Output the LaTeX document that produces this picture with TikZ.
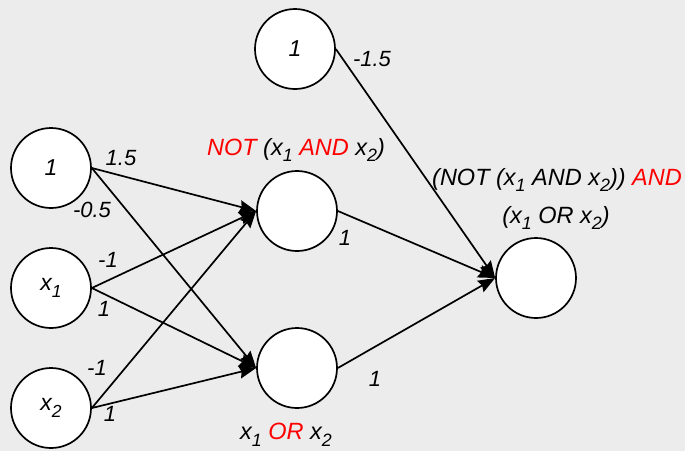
\documentclass[tikz,border=0pt]{standalone}
\usepackage{fontspec}
\setmainfont{Liberation Sans}
\usetikzlibrary{arrows.meta}
\definecolor{bggray}{RGB}{236,236,236}
\newcommand{\lowsub}[1]{\raisebox{-0.28em}{\scalebox{0.76}{#1}}}
\tikzset{
  neuron/.style={draw,fill=white,circle,minimum size=80pt,inner sep=0pt,line width=1.7pt,font=\fontsize{23}{27}\selectfont\itshape},
  conn/.style={-{Stealth[length=17pt,width=13pt,inset=2pt]},line width=1.7pt},
  wlabel/.style={font=\fontsize{22}{26}\selectfont\itshape,inner sep=0pt},
  fnlabel/.style={font=\fontsize{23.5}{28}\selectfont\itshape,inner sep=0pt},
}

\begin{document}
\begin{tikzpicture}[x=1pt,y=-1pt]

  \fill[bggray] (0,0) rectangle (685,451);
  \useasboundingbox (0,0) rectangle (685,451);

  % INPUT LAYER
  \node[neuron] (b1) at (51,168)  {1};
  \node[neuron] (x1) at (51,288)  {x\lowsub{1}};
  \node[neuron] (x2) at (51,408)  {x\lowsub{2}};

  % HIDDEN LAYER
  \node[neuron] (b2) at (295,49)  {1};
  \node[neuron] (h1) at (297,211) {};
  \node[neuron] (h2) at (297,368) {};

  % OUTPUT
  \node[neuron] (out) at (536,278) {};

  \draw[conn] (b1.east) -- (h1.west);
  \draw[conn] (b1.east) -- (h2.west);
  \draw[conn] (x1.east) -- (h1.west);
  \draw[conn] (x1.east) -- (h2.west);
  \draw[conn] (x2.east) -- (h1.west);
  \draw[conn] (x2.east) -- (h2.west);
  \draw[conn] (b2.east) -- (out.west);
  \draw[conn] (h1.east) -- (out.west);
  \draw[conn] (h2.east) -- (out.west);

  % weights
  \node[wlabel] (w-b1h1) at (121,158) {1.5};
  \node[wlabel] (w-b1h2) at (92,210)  {-0.5};
  \node[wlabel] (w-x1h1) at (108,260) {-1};
  \node[wlabel] (w-x1h2) at (104,309) {1};
  \node[wlabel] (w-x2h1) at (97,368)  {-1};
  \node[wlabel] (w-x2h2) at (110,414) {1};
  \node[wlabel] (w-b2o)  at (372,59)  {-1.5};
  \node[wlabel] (w-h1o)  at (345,238) {1};
  \node[wlabel] (w-h2o)  at (375,379) {1};

  % functions
  \node[fnlabel] (f-h1) at (296,150)
    {\textcolor{red}{NOT} (x\lowsub{1} \textcolor{red}{AND} x\lowsub{2})};
  \node[fnlabel] (f-h2) at (286,435)
    {x\lowsub{1} \textcolor{red}{OR} x\lowsub{2}};
  \node[fnlabel] (f-out-a) at (557,180)
    {(NOT (x\lowsub{1} AND x\lowsub{2})) \textcolor{red}{AND}};
  \node[fnlabel] (f-out-b) at (556,218)
    {(x\lowsub{1} OR x\lowsub{2})};

\end{tikzpicture}
\end{document}
